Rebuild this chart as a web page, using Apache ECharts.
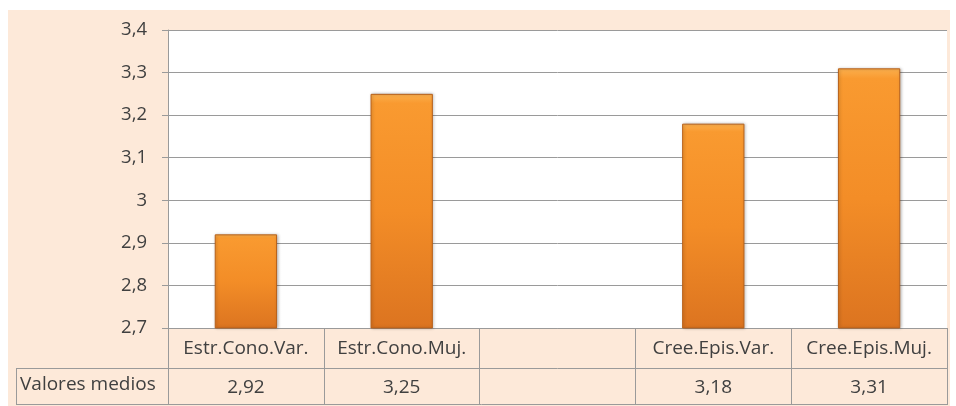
<!DOCTYPE html>
<html><head><meta charset="utf-8">
<script src="https://cdn.jsdelivr.net/npm/echarts@6/dist/echarts.min.js"></script>
<style>html,body{margin:0;padding:0;background:#fff}#c{width:956px;height:406px}</style>
</head><body><div id="c"></div>
<script>
var categories = ['Estr.Cono.Var.', 'Estr.Cono.Muj.', '', 'Cree.Epis.Var.', 'Cree.Epis.Muj.'];
var values = [2.92, 3.25, null, 3.18, 3.31];
var rowLabel = 'Valores medios';
var yMin = 2.7, yMax = 3.4, yStep = 0.1;

function fmt(v) {
  if (v === null || v === undefined) return '';
  return String(Math.round(v * 100) / 100).replace('.', ',');
}
var txt = '#404040', font = 'Open Sans', line = '#9a9a9a';
var chart = echarts.init(document.getElementById('c'));
chart.setOption({
  animation: false,
  backgroundColor: '#fff',
  graphic: [
    { type: 'rect', z: -10, shape: { x: 8, y: 10, width: 942, height: 400 }, style: { fill: '#fde9d9' } },
    { type: 'line', shape: { x1: 16, y1: 368.5, x2: 168, y2: 368.5 }, style: { stroke: line, lineWidth: 1 } },
    { type: 'line', shape: { x1: 16, y1: 404.5, x2: 947, y2: 404.5 }, style: { stroke: line, lineWidth: 1 } },
    { type: 'line', shape: { x1: 16.5, y1: 368, x2: 16.5, y2: 405 }, style: { stroke: line, lineWidth: 1 } },
    { type: 'text', left: 20, top: 375, style: { text: rowLabel, fill: txt, font: '19px "Open Sans"' } }
  ],
  grid: { left: 168, right: 9, top: 30, bottom: 78, show: true, backgroundColor: '#fff', borderWidth: 0 },
  xAxis: [{
    type: 'category', data: categories, position: 'bottom',
    axisLine: { show: true, lineStyle: { color: line } },
    axisTick: { show: true, alignWithLabel: false, length: 40, lineStyle: { color: line } },
    axisLabel: { color: txt, fontFamily: font, fontSize: 19, margin: 11, interval: 0 }
  }, {
    type: 'category', data: values.map(fmt), position: 'bottom', offset: 40,
    axisLine: { show: true, lineStyle: { color: line } },
    axisTick: { show: true, length: 37, lineStyle: { color: line } },
    axisLabel: { color: txt, fontFamily: font, fontSize: 19, margin: 10, interval: 0 }
  }],
  yAxis: {
    type: 'value', min: yMin, max: yMax, interval: yStep,
    axisLine: { show: true, lineStyle: { color: line } },
    axisTick: { show: true, length: 6, lineStyle: { color: line } },
    splitLine: { lineStyle: { color: line } },
    axisLabel: { color: txt, fontFamily: font, fontSize: 18.5, margin: 21, formatter: function (v) { return fmt(Math.round(v * 10) / 10); } }
  },
  series: [{
    type: 'bar', data: values, barWidth: '40%', xAxisIndex: 0,
    itemStyle: {
      color: new echarts.graphic.LinearGradient(0, 0, 0, 1, [
        { offset: 0, color: '#fbb04e' }, { offset: 0.04, color: '#f99a30' },
        { offset: 0.5, color: '#f38d27' }, { offset: 1, color: '#dc7420' }
      ]),
      borderColor: '#b8611a', borderWidth: 1,
      shadowColor: 'rgba(0,0,0,0.25)', shadowBlur: 3, shadowOffsetX: 1, shadowOffsetY: 0
    }
  }]
});
</script></body></html>
